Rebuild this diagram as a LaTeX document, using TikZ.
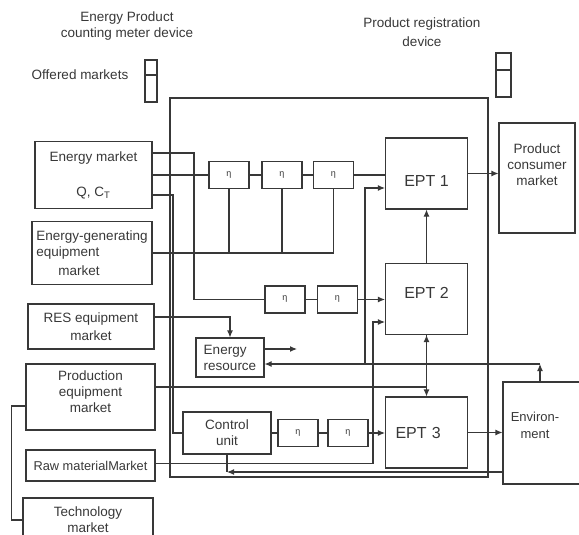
\documentclass[tikz,border=0pt]{standalone}
\usepackage{fontspec}
\setmainfont{Liberation Sans}
\usetikzlibrary{arrows.meta}
\tikzset{
  market/.style={draw,rectangle,align=center,inner sep=1pt},
  ept/.style={draw,rectangle,minimum width=82pt,minimum height=71pt,font=\fontsize{16}{19}\selectfont},
  eta/.style={draw,rectangle,minimum width=40pt,minimum height=27pt,inner sep=0pt,font=\fontsize{9}{10}\selectfont},
  signal/.style={-{Latex[length=7pt,width=6pt]}},
  dsignal/.style={{Latex[length=7pt,width=6pt]}-{Latex[length=7pt,width=6pt]}}
}

\begin{document}
\begin{tikzpicture}[x=1pt,y=-1pt,line width=1.1pt,color=black!78,font=\fontsize{13.5}{16}\selectfont]
\useasboundingbox (0,0) rectangle (579,535);

\node[align=center] (meterlbl) at (127,26) {Energy Product\\counting meter device};
\node[align=center] (reglbl) at (422,32) {Product registration\\[3pt]device};
\node (offered) at (80,75) {Offered markets};
\draw (145,60) rectangle (157,102);
\draw (145,75) -- (157,75);
\draw (496,53) rectangle (511,97);
\draw (496,70) -- (511,70);

\node[draw,minimum width=318pt,minimum height=379pt] (frame) at (329,287.5) {};

\node[market,minimum width=117pt,minimum height=67pt] (emkt) at (93.5,175) {Energy market\\[19pt]Q, C\textsubscript{T}};
\node[market,align=left,minimum width=120pt,minimum height=63pt] (egen) at (92,253) {Energy-generating\\equipment\\[3pt]\hspace*{22pt}market};
\node[market,minimum width=126pt,minimum height=45pt] (res) at (91,326.5) {RES equipment\\[2pt]market};
\node[market,minimum width=129pt,minimum height=66pt,label={[align=center,yshift=5pt]center:Production\\equipment\\market}] (prod) at (90.5,397) {};
\node[market,minimum width=129pt,minimum height=31pt,font=\fontsize{12.8}{15}\selectfont] (raw) at (90.5,465.5) {Raw materialMarket};
\node[market,minimum width=130pt,minimum height=44pt] (tech) at (88,520) {Technology\\market};

\node[eta] (eta1) at (229,175) {η};
\node[eta] (eta2) at (282,175) {η};
\node[eta] (eta3) at (333.5,175) {η};
\node[eta] (etaA) at (285,299.5) {η};
\node[eta] (etaB) at (337.5,299.5) {η};
\node[eta] (etaC) at (298,433) {η};
\node[eta] (etaD) at (348,433) {η};

\node[market,align=left,minimum width=68pt,minimum height=39pt] (enres) at (230,357.5) {Energy\\resource};
\node[market,minimum width=88pt,minimum height=42pt] (ctrl) at (227,433) {Control\\unit};

\node[ept,text height=25pt,text depth=0pt] (ept1) at (426.5,173.5) {EPT 1};
\node[ept,text depth=12pt] (ept2) at (426.5,299) {EPT 2};
\node[ept,text width=62pt,align=left] (ept3) at (426.5,432.5) {EPT 3};

\node[draw,minimum width=76pt,minimum height=110pt,label={[align=center,yshift=13pt]center:Product\\consumer\\market}] (cons) at (537,178) {};
\node[draw,minimum width=100pt,minimum height=102pt,label={[align=center,xshift=-18pt,yshift=7.5pt,font=\fontsize{13}{17}\selectfont]center:Environ-\\ment}] (env) at (553,433) {};

\coordinate (bendA) at (194,299.5);
\coordinate (bendB) at (173,433);
\coordinate (enout) at (297,349);
\coordinate (jloop) at (365,364);
\coordinate (envup) at (540,364);
\coordinate (jraw) at (373,322);
\coordinate (jctrl) at (227,472);

\draw (emkt) -- (eta1);
\draw (eta1) -- (eta2);
\draw (eta2) -- (eta3);
\draw (eta3) -- (eta3 -| ept1.west);
\draw (egen) -- (egen -| eta3);
\foreach \e in {eta1,eta2,eta3}
  \draw (\e.south) -- (\e |- egen);

\draw ([yshift=22pt]emkt.east) -| (bendA) -- (etaA);
\draw (etaA) -- (etaB);
\draw[signal] (etaB) -- (etaB -| ept2.west);

\draw ([yshift=-20pt]emkt.east) -| (bendB) -- (ctrl);
\draw (ctrl) -- (etaC);
\draw (etaC) -- (etaD);
\draw[signal] (etaD) -- (etaD -| ept3.west);

\draw[signal] ([yshift=9.5pt]res.east) -| (enres.north);
\draw[signal] (enres.east |- enout) -- (enout);
\draw[signal] (envup |- env.north) -- (envup);
\draw[signal] (envup) -- (enres.east |- envup);
\draw[signal] (jloop) |- ([yshift=-14.5pt]ept1.west);

\draw[signal] ([yshift=2pt]raw.east) -| (jraw) -- (jraw -| ept2.west);
\draw ([yshift=10pt]prod.east) -| (ept2.south);
\draw[dsignal] (ept3.north) -- (ept2.south);
\draw[signal] (ept2) -- (ept1);
\draw[signal] (ept1) -- (ept1 -| cons.west);
\draw[signal] (ept3) -- (ept3 -| env.west);

\draw (ctrl) -- (jctrl);
\draw[signal] (env.west |- jctrl) -- (jctrl);
\draw ([yshift=-9pt]prod.west) -- ++(-14,0) |- (tech);

\end{tikzpicture}
\end{document}
